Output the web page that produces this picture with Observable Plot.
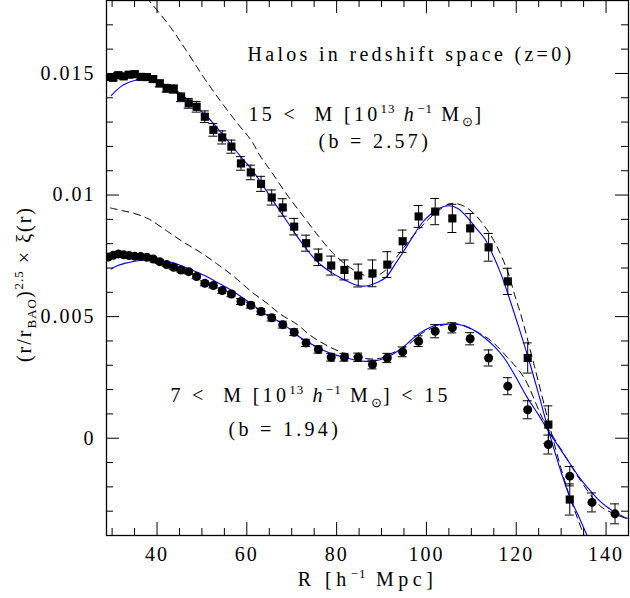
<!DOCTYPE html>
<html><head><meta charset="utf-8">
<script src="https://cdn.jsdelivr.net/npm/d3@7"></script>
<script src="https://cdn.jsdelivr.net/npm/@observablehq/plot@0.6"></script>
<style>
body{margin:0;background:#fff}
#chart{position:relative;width:630px;height:598px;overflow:hidden}
#ticks{position:absolute;left:0;top:0;width:630px;height:598px;pointer-events:none}
#ticks svg{background:transparent !important}
</style>
</head><body><div id="chart"><div id="main"></div><div id="ticks"></div></div>
<script>
// ---- data (y values in units of 1e-3) ----
const yUnit = 1e-3;
const binR = [29.16,30.25,31.39,32.57,33.79,35.05,36.37,37.73,39.15,40.61,42.14,43.72,45.36,47.06,48.82,50.65,52.55,54.52,56.57,58.69,60.89,63.17,65.54,68.00,70.55,73.20,75.94,78.79,81.74,84.81,87.99,91.29,94.71,98.26,101.95,105.77,109.74,113.85,118.12,122.55,127.15,131.92,136.87,142.00];

// 15 < M  (squares)
const highV = [14.85,14.82,14.93,14.88,14.95,14.97,14.86,14.85,14.77,14.59,14.39,14.36,14.02,13.77,13.63,13.22,12.68,12.37,11.99,11.30,10.93,10.46,9.90,9.49,8.70,8.02,7.44,7.10,6.92,6.69,6.78,7.14,8.10,9.12,9.32,9.04,8.63,7.85,6.45,3.30,0.56,-2.52];
const highErr = [0.11,0.11,0.11,0.11,0.11,0.12,0.12,0.12,0.13,0.14,0.16,0.17,0.18,0.20,0.22,0.24,0.26,0.27,0.27,0.28,0.30,0.31,0.31,0.36,0.34,0.33,0.34,0.39,0.41,0.47,0.55,0.53,0.46,0.45,0.54,0.58,0.61,0.57,0.54,0.62,0.77,0.64];

// 7 < M < 15  (circles)
const lowV = [7.45,7.52,7.58,7.54,7.51,7.48,7.47,7.44,7.37,7.26,7.14,7.03,6.92,6.85,6.65,6.37,6.28,6.07,5.93,5.62,5.47,5.21,4.95,4.67,4.36,3.92,3.65,3.33,3.33,3.33,3.03,3.30,3.55,3.99,4.40,4.54,4.09,3.30,2.14,1.17,-0.26,-1.56,-2.64,-3.11];
const lowErr = [0.05,0.05,0.05,0.05,0.05,0.05,0.06,0.06,0.06,0.07,0.07,0.08,0.08,0.09,0.09,0.10,0.10,0.11,0.11,0.12,0.12,0.13,0.13,0.14,0.14,0.15,0.15,0.16,0.16,0.17,0.18,0.19,0.20,0.22,0.27,0.21,0.25,0.33,0.35,0.37,0.39,0.40,0.39,0.41];

// model curves (blue) and linear-theory curves (dashed)
const highFitR = [29.8,30.5,32,33.5,35,36.5,38,39.5,41,43,45,47,49,51,53,55,57,59,61,63,65,67,69,71,73,75,77,79,81,83,85,87,89,91,93,95,97,99,101,103,105,107,109,111,113,115,116.5,118.3,120.5,122.6,125,127.3,130,132,134,136];
const highFitV = [14.09,14.22,14.47,14.62,14.71,14.75,14.75,14.69,14.6,14.45,14.2,13.9,13.58,13.25,12.85,12.4,11.95,11.5,11.07,10.55,10.0,9.45,8.9,8.35,7.85,7.4,7.05,6.8,6.58,6.4,6.27,6.27,6.4,6.62,7.15,7.71,8.3,8.85,9.22,9.47,9.56,9.45,9.1,8.65,8.2,7.45,6.8,5.85,4.6,3.35,1.8,0.25,-1.4,-2.45,-3.25,-4.1];
const highDashR = [29,32,35,38.2,43,46.5,50.4,54,57.9,61,63,65.3,69,72.7,76,79,82,85,88,90.5,92.7,95,97.9,101.6,105.4,108.3,110.5,112,115,118,119.8,121,124,127.5,130,132,135.3];
const highDashV = [20.0,19.3,18.65,18.0,16.9,15.95,14.84,13.9,12.95,12.24,11.6,11.0,10.0,9.1,8.3,7.65,7.15,6.8,6.62,6.85,7.3,7.85,8.5,9.2,9.65,9.55,9.25,8.95,8.13,6.9,5.8,5.1,3.0,0.45,-1.25,-2.45,-4.1];
const lowFitR = [29.8,31,33,35,37.2,40,43.2,46,48,50.6,53,56,58.5,61,64,68.2,72,75.7,78.5,81.6,84,86.8,89.5,92,94.5,96.5,98.5,100.9,102.8,104.6,106.5,108.3,110.5,112.8,115,117.2,119.8,122.4,125,127.3,130,132,134,135.8,138,140.3,142.5,145];
const lowFitV = [6.96,7.08,7.2,7.28,7.33,7.31,7.23,7.05,6.9,6.69,6.45,6.15,5.85,5.52,5.12,4.68,4.13,3.74,3.5,3.33,3.22,3.16,3.22,3.40,3.7,4.02,4.32,4.56,4.67,4.70,4.68,4.63,4.45,4.15,3.8,3.33,2.55,1.69,0.95,0.25,-0.5,-1.05,-1.6,-2.01,-2.47,-2.84,-3.1,-3.31];
const lowDashR = [29.6,32.25,34.8,38,42.3,46,49.7,53.5,57.1,61.2,64.5,67.5,71.2,74.2,78.6,83.1,87.5,90,92,95.7,99.4,103.1,106.9,110.6,114.3,118,121.7,126.1,130.6,134.3,138.8,142,145];
const lowDashV = [9.47,9.36,9.25,9.03,8.51,8.05,7.64,7.15,6.65,6.0,5.55,5.1,4.68,4.22,3.74,3.40,3.26,3.3,3.47,3.81,4.36,4.63,4.70,4.43,4.02,3.33,2.5,0.73,-0.64,-1.74,-2.8,-3.12,-3.33];

// axes
const xDomain = [28.75, 145];
const yDomain = [-0.004, 0.018];
const xMajor = [40,60,80,100,120,140];
const xMinor = [30,35,45,50,55,65,70,75,85,90,95,105,110,115,125,130,135];
const yMajor = [0, 0.005, 0.01, 0.015];
const yTickLabels = ["0","0.005","0.01","0.015"];
const yMinor = [-0.003,-0.002,-0.001,0.001,0.002,0.003,0.004,0.006,0.007,0.008,0.009,0.011,0.012,0.013,0.014,0.016,0.017];

// ---- layout ----
const W = 630, H = 598, mL = 106, mR = 2, mT = 0, mB = 63;
const plotW = W - mL - mR, plotH = H - mT - mB;
const MAJ = 13, MIN = 7;
const dims = {width: W, height: H, marginLeft: mL, marginRight: mR, marginTop: mT, marginBottom: mB};

// ---- tables ----
const pts = (vals, errs) => vals.map((v, i) => ({R: binR[i], v: v * yUnit, e: errs[i] * yUnit}));
const crv = (rs, vs) => rs.map((r, i) => ({R: r, v: vs[i] * yUnit}));
const highPts = pts(highV, highErr), lowPts = pts(lowV, lowErr);
const highFit = crv(highFitR, highFitV), highDash = crv(highDashR, highDashV);
const lowFit = crv(lowFitR, lowFitV), lowDash = crv(lowDashR, lowDashV);

const errMarks = (data) => [
  Plot.ruleX(data, {x: "R", y1: d => d.v - d.e, y2: d => d.v + d.e, stroke: "black", strokeWidth: 1, clip: true}),
  Plot.ruleY(data, {y: d => d.v + d.e, x1: "R", x2: "R", insetLeft: -4.5, insetRight: -4.5, stroke: "black", strokeWidth: 1, clip: true}),
  Plot.ruleY(data, {y: d => d.v - d.e, x1: "R", x2: "R", insetLeft: -4.5, insetRight: -4.5, stroke: "black", strokeWidth: 1, clip: true})
];
const txt = (key, o) => Plot.text([key], {text: d => d, fill: "black", ...o});

// ---- main chart ----
const plot = Plot.plot({
  ...dims,
  x: {domain: xDomain},
  y: {domain: yDomain},
  style: {fontFamily: "'Liberation Serif', serif", fontSize: "20px"},
  marks: [
    Plot.line(highDash, {x: "R", y: "v", stroke: "black", strokeWidth: 1, strokeDasharray: "7,5", curve: "catmull-rom", clip: true}),
    Plot.line(lowDash, {x: "R", y: "v", stroke: "black", strokeWidth: 1, strokeDasharray: "7,5", curve: "catmull-rom", clip: true}),
    Plot.line(highFit, {x: "R", y: "v", stroke: "#0000ff", strokeWidth: 1.1, curve: "catmull-rom", clip: true}),
    Plot.line(lowFit, {x: "R", y: "v", stroke: "#0000ff", strokeWidth: 1.1, curve: "catmull-rom", clip: true}),
    ...errMarks(highPts),
    ...errMarks(lowPts),
    Plot.dot(highPts, {x: "R", y: "v", symbol: "square", r: 4.6, fill: "black", clip: true}),
    Plot.dot(lowPts, {x: "R", y: "v", r: 4.5, fill: "black", clip: true}),
    Plot.frame({stroke: "black", strokeWidth: 1.3}),
    Plot.axisX(xMajor, {anchor: "bottom", tickSize: 0, tickPadding: 11, label: null, tickFormat: d => String(d)}),
    Plot.axisY(yMajor, {anchor: "left", tickSize: 0, tickPadding: 11, label: null, tickFormat: d => yTickLabels[yMajor.indexOf(d)]}),
    txt("@title", {frameAnchor: "top-left", lineAnchor: "bottom", textAnchor: "start", dx: 141, dy: 60}),
    txt("@hi", {frameAnchor: "top-left", lineAnchor: "bottom", textAnchor: "start", dx: 142, dy: 120}),
    txt("@bhi", {frameAnchor: "top-left", lineAnchor: "bottom", textAnchor: "start", dx: 212, dy: 147.5}),
    txt("@lo", {frameAnchor: "top-left", lineAnchor: "bottom", textAnchor: "start", dx: 64, dy: 401.5}),
    txt("@blo", {frameAnchor: "top-left", lineAnchor: "bottom", textAnchor: "start", dx: 122, dy: 435}),
    txt("@xlab", {frameAnchor: "bottom", lineAnchor: "bottom", textAnchor: "middle", dy: 50}),
    txt("@ylab", {frameAnchor: "left", lineAnchor: "middle", textAnchor: "middle", rotate: -90, dx: -82, dy: 16})
  ]
});

// ---- inward frame ticks: a transparent Plot laid exactly over the chart, same scales/margins ----
const tickOverlay = Plot.plot({
  ...dims,
  x: {domain: xDomain, axis: null},
  y: {domain: yDomain, axis: null},
  marks: [
    Plot.tickX(xMajor, {x: d => d, insetTop: plotH - MAJ, stroke: "black", strokeWidth: 1}),
    Plot.tickX(xMinor, {x: d => d, insetTop: plotH - MIN, stroke: "black", strokeWidth: 1}),
    Plot.tickX(xMajor, {x: d => d, insetBottom: plotH - MAJ, stroke: "black", strokeWidth: 1}),
    Plot.tickX(xMinor, {x: d => d, insetBottom: plotH - MIN, stroke: "black", strokeWidth: 1}),
    Plot.tickY(yMajor, {y: d => d, insetRight: plotW - MAJ, stroke: "black", strokeWidth: 1}),
    Plot.tickY(yMinor, {y: d => d, insetRight: plotW - MIN, stroke: "black", strokeWidth: 1}),
    Plot.tickY(yMajor, {y: d => d, insetLeft: plotW - MAJ, stroke: "black", strokeWidth: 1}),
    Plot.tickY(yMinor, {y: d => d, insetLeft: plotW - MIN, stroke: "black", strokeWidth: 1})
  ]
});
tickOverlay.style.background = "transparent";

// ---- rich text (super/subscripts, italics) ----
const rich = {
  "@title": [["Halos in redshift space (z=0)"]],
  "@hi": [["15 <  M [10"], ["13", "sup"], [" "], ["h", "i"], ["−1", "sup"], [" M"], ["⊙", "sub"], ["]"]],
  "@bhi": [["(b = 2.57)"]],
  "@lo": [["7 <  M [10"], ["13", "sup"], [" "], ["h", "i"], ["−1", "sup"], [" M"], ["⊙", "sub"], ["] < 15"]],
  "@blo": [["(b = 1.94)"]],
  "@xlab": [["R [h"], ["−1", "sup"], [" Mpc]"]],
  "@ylab": [["(r/r"], ["BAO", "sub"], [")"], ["2.5", "sup"], [" × ξ(r)"]]
};
const spacing = {"@xlab": "4.5px", "@ylab": "2px"};
const NS = "http://www.w3.org/2000/svg";
plot.querySelectorAll("text").forEach(t => {
  const key = t.textContent;
  const parts = rich[key];
  if (!parts) return;
  while (t.firstChild) t.removeChild(t.firstChild);
  t.style.whiteSpace = "pre";
  t.style.letterSpacing = spacing[key] || "3.3px";
  let shift = 0;
  for (const [s, kind] of parts) {
    const ts = document.createElementNS(NS, "tspan");
    const target = kind === "sup" ? -8 : kind === "sub" ? 5 : 0;
    if (target !== shift) { ts.setAttribute("dy", target - shift); shift = target; }
    if (kind === "sup" || kind === "sub") { ts.setAttribute("font-size", "13px"); ts.style.letterSpacing = "1px"; }
    if (kind === "i") ts.setAttribute("font-style", "italic");
    ts.textContent = s;
    t.appendChild(ts);
  }
});
plot.querySelectorAll('[aria-label="x-axis tick label"] text, [aria-label="y-axis tick label"] text').forEach(t => t.style.letterSpacing = "2px");
document.getElementById("main").appendChild(plot);
document.getElementById("ticks").appendChild(tickOverlay);
</script>
</body></html>
